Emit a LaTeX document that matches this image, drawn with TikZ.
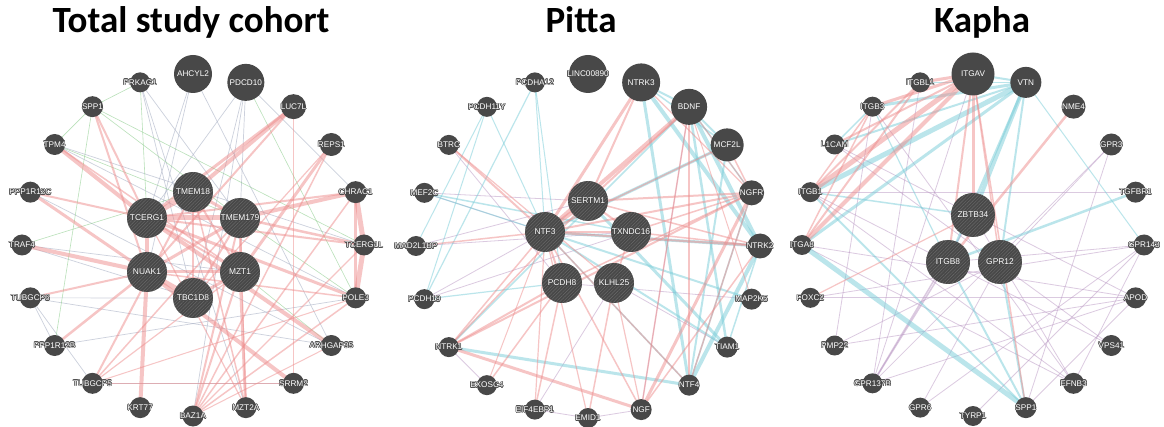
\documentclass[tikz,border=0pt]{standalone}
\usepackage{fontspec}
\newfontfamily\labf{Liberation Sans}
\newfontfamily\ttlf{Carlito}
\usetikzlibrary{calc,patterns.meta}
\definecolor{nd}{RGB}{72,72,72}
\definecolor{hatch}{RGB}{105,105,105}
\definecolor{pinkc}{RGB}{238,140,140}
\definecolor{bluec}{RGB}{120,205,216}
\definecolor{greenc}{RGB}{140,205,140}
\definecolor{purpc}{RGB}{185,150,195}
\definecolor{grayc}{RGB}{170,178,198}
\pgfdeclarelayer{bg}
\pgfdeclarelayer{edges}
\pgfsetlayers{bg,edges,main}
\newcommand\hl[1]{{\setbox0\hbox{#1}%
\def\hp##1##2{\rlap{\hskip##1\raisebox{##2}{\color{nd}\copy0}}}%
\hp{.6pt}{0pt}\hp{-.6pt}{0pt}\hp{0pt}{.6pt}\hp{0pt}{-.6pt}%
\hp{.45pt}{.45pt}\hp{-.45pt}{.45pt}\hp{.45pt}{-.45pt}\hp{-.45pt}{-.45pt}%
\color{white}\box0}}
\newcommand\nl[1]{\makebox[0pt]{\hl{#1}}}
\begin{document}
\begin{tikzpicture}[x=1pt,y=-1pt,
 ringnode/.style={circle,fill=nd,inner sep=0pt,minimum size=#1,text=white,font=\labf\fontsize{8.2}{9}\selectfont},
 hubnode/.style={circle,inner sep=0pt,minimum size=#1,preaction={fill=nd},pattern={Lines[angle=45,distance=2.4pt,line width=.45pt]},pattern color=hatch,text=white,font=\labf\fontsize{8.4}{9}\selectfont},
 ttl/.style={font=\ttlf\bfseries\fontsize{37}{40}\selectfont,text=black,anchor=base,inner sep=0pt},
 epk/.style={draw=pinkc,draw opacity=.5,line width=#1}, epk/.default=1,
 ebl/.style={draw=bluec,draw opacity=.5,line width=#1}, ebl/.default=1,
 egr/.style={draw=greenc,draw opacity=.6,line width=#1}, egr/.default=.6,
 epu/.style={draw=purpc,draw opacity=.5,line width=#1}, epu/.default=.8,
 egy/.style={draw=grayc,draw opacity=.6,line width=#1}, egy/.default=.7]
\useasboundingbox (0,0) rectangle (1164,427);
\begin{pgfonlayer}{bg}\fill[white] (0,0) rectangle (1164,427);\end{pgfonlayer}

% titles
\node[ttl] (t1) at (191,33) {Total study cohort};
\node[ttl] (t2) at (581,33) {Pitta};
\node[ttl] (t3) at (982,33) {Kapha};

% ---------- panel 1 ----------
\coordinate (C1) at (193,245);
\foreach \kk/\nm/\tx/\sz in {0/a0/AHCYL2/38pt,1/a1/PDCD10/37pt,2/a2/LUC7L/25pt,3/a3/REPS1/23pt,4/a4/CHRAC1/22pt,5/a5/TCERG1L/21pt,6/a6/POLE3/21pt,7/a7/ARHGAP35/21pt,8/a8/SRRM2/21pt,9/a9/MZT2A/21pt,10/a10/BAZ1A/21pt,11/a11/KRT77/21pt,12/a12/TUBGCP5/21pt,13/a13/PPP1R12B/21pt,14/a14/TUBGCP6/21pt,15/a15/TRAF4/21pt,16/a16/PPP1R12C/21pt,17/a17/TPM4/21pt,18/a18/SPP1/21pt,19/a19/PRKAG1/20pt}
  \node[ringnode=\sz] (\nm) at ($(C1)+({\kk*18-90}:171)$) {\nl{\tx}};
\node[hubnode=40pt] (aTM18) at (193,192) {\nl{TMEM18}};
\node[hubnode=40pt] (aTC) at (147,218) {\nl{TCERG1}};
\node[hubnode=40pt] (aTM179) at (240,218) {\nl{TMEM179}};
\node[hubnode=40pt] (aNU) at (147,272) {\nl{NUAK1}};
\node[hubnode=40pt] (aMZ) at (240,272) {\nl{MZT1}};
\node[hubnode=40pt] (aTB) at (193,298) {\nl{TBC1D8}};

% ---------- panel 2 ----------
\coordinate (C2) at (588,246);
\foreach \kk/\nm/\tx/\sz in {0/b0/LINC00890/38pt,1/b1/NTRK3/38pt,2/b2/BDNF/36pt,3/b3/MCF2L/33pt,4/b4/NGFR/25pt,5/b5/NTRK2/25pt,6/b6/MAP2K5/21pt,7/b7/TIAM1/21pt,8/b8/NTF4/21pt,9/b9/NGF/21pt,10/b10/EMID1/20pt,11/b11/EIF4EBP1/20pt,12/b12/EXOSC4/20pt,13/b13/NTRK1/20pt,14/b14/PCDH19/20pt,15/b15/MAD2L1BP/20pt,16/b16/MEF2C/20pt,17/b17/BTRC/20pt,18/b18/PCDH11Y/20pt,19/b19/PCDHA12/20pt}
  \node[ringnode=\sz] (\nm) at ($(C2)+({\kk*18-90}:172)$) {\nl{\tx}};
\node[hubnode=40pt] (bSE) at (588,201) {\nl{SERTM1}};
\node[hubnode=40pt] (bN3) at (545,232) {\nl{NTF3}};
\node[hubnode=40pt] (bTX) at (631,232) {\nl{TXNDC16}};
\node[hubnode=40pt] (bP8) at (562,283) {\nl{PCDH8}};
\node[hubnode=40pt] (bKL) at (614,283) {\nl{KLHL25}};

% ---------- panel 3 ----------
\coordinate (C3) at (973,245);
\foreach \kk/\nm/\tx/\sz in {0/c0/ITGAV/43pt,1/c1/VTN/31pt,2/c2/NME4/24pt,3/c3/GPR3/22pt,4/c4/TGFBR1/21pt,5/c5/GPR143/21pt,6/c6/APOD/21pt,7/c7/VPS41/21pt,8/c8/EFNB3/21pt,9/c9/SPP1/21pt,10/c10/TYRP1/20pt,11/c11/GPR6/20pt,12/c12/GPR137B/20pt,13/c13/PMP22/20pt,14/c14/FOXC2/20pt,15/c15/ITGA8/20pt,16/c16/ITGB1/20pt,17/c17/L1CAM/20pt,18/c18/ITGB3/20pt,19/c19/ITGBL1/20pt}
  \node[ringnode=\sz] (\nm) at ($(C3)+({\kk*18-90}:171)$) {\nl{\tx}};
\node[hubnode=44pt] (cZB) at (973,215) {\nl{ZBTB34}};
\node[hubnode=44pt] (cI8) at (948,262) {\nl{ITGB8}};
\node[hubnode=44pt] (cG12) at (1000,262) {\nl{GPR12}};

\begin{pgfonlayer}{edges}
% panel 1
\foreach \u/\v in {a19/aTM179,a19/aTB,a1/aTM179,a1/aTB,a1/aTC,a1/a4,a0/aTC,a0/aNU,a17/a6,a14/a12,a14/a7,a12/a8,a13/a6,a15/aMZ,a16/a7,a1/a10,a0/a7,a19/a9,a17/a5,a14/aTB,a15/aTB,a13/a14}
  \draw[egy] (\u.center) -- (\v.center);
\foreach \u/\v in {a19/a18,a18/a17,a18/aTM179,a17/aTM179,a18/a13,a19/aTC,a1/a6,aTM179/a6,a7/aMZ,a15/aTM18,a18/a5}
  \draw[egr] (\u.center) -- (\v.center);
\foreach \u/\v/\w in {a2/aTM18/4,a2/aTC/3,a2/aNU/2,a2/a8/1,a3/aMZ/3,a3/a10/1.5,a3/aTB/1.2,a4/aTM179/4,a4/a5/5,a5/a6/5,a4/a6/3,a4/aTC/2,a4/a10/1.5,a5/aTM179/2.5,a5/aTC/2,a5/a10/1.2,a6/aTC/3,a6/a10/1.5,a6/aNU/1.5,a6/a12/1,a7/aTC/4,a7/a10/1,a8/aNU/4,a8/a12/1,a9/aMZ/3,a9/aTM18/1.5,a9/aTC/1.2,a9/aTM179/1.2,a10/aMZ/2,a10/aTM179/2,a11/aNU/4,a12/aTM18/2,a12/aTM179/1.5,a12/aMZ/1.2,a13/aNU/2.5,a14/aNU/2,a15/aNU/4,a16/aNU/3,a16/aTC/2,a17/aTC/4,a17/aMZ/1.5,a18/aTC/2,a18/aNU/2,aTC/aTM18/5,aTC/aTM179/5,aTC/aNU/4,aNU/aTB/5,aNU/aMZ/3,aTM179/aMZ/3,aTM18/aMZ/2,aTC/aMZ/2,aTM179/aNU/3,aTM18/aTB/2,aTM179/aTB/2,aMZ/aTB/3,aTM18/aTM179/3}
  \draw[epk=\w] (\u.center) -- (\v.center);
% panel 2
\foreach \u/\v in {b14/bN3,b16/bSE,b16/bN3,b14/bTX,b12/b13,b11/b10,b15/bSE,b9/b2,b15/bTX,b17/bP8,b11/bKL,b10/b9,b6/bP8,b7/bKL}
  \draw[epu] (\u.center) -- (\v.center);
\foreach \u/\v/\w in {b1/b5/4,b1/b8/3,b1/b2/2,b1/b3/1.5,b2/b5/4,b2/b7/2.5,b2/b3/2,b2/b4/1.5,b2/b13/1.5,b3/bN3/3,b3/b8/2,b5/bN3/3,b5/b8/4,b6/bN3/2,b7/bN3/2,b7/bSE/3,b8/b13/3,b8/bN3/1.5,b14/b19/1.2,b14/b18/1,b14/bP8/1.2,b15/b18/1,b16/bTX/1.5,b16/bN3/1.2,b18/bN3/1,b19/bN3/1,b19/bP8/1,b4/b8/1.5,b5/b7/1.5}
  \draw[ebl=\w] (\u.center) -- (\v.center);
\foreach \u/\v/\w in {b1/bN3/3,b1/bSE/2,b1/b4/1.2,b2/bN3/4,b2/bSE/2,b2/b8/1.5,b2/b9/1.5,b2/b4/1.2,b2/b6/1,b3/b4/1.5,b3/bN3/1.5,b4/bN3/2,b4/bSE/2,b4/b13/2,b4/b9/3,b4/b8/1.5,b4/bP8/1.5,b4/bTX/1.5,b5/bN3/2,b5/b9/1.5,b5/bTX/1.5,b5/bSE/1.5,b8/bN3/1.5,b9/b13/3,b9/bN3/1.5,b9/bKL/1.2,b10/bN3/1.2,b10/bKL/1.5,b11/bP8/1.5,b11/bN3/1.2,b12/bP8/1.5,b12/bN3/1,b13/bN3/1.5,b13/bP8/2,b13/bSE/1.5,b15/bN3/1.5,b17/bN3/2,b17/bKL/1.2,bSE/bN3/4,bN3/bTX/2.5,bN3/bP8/2,bTX/bKL/1.5,bSE/bTX/2}
  \draw[epk=\w] (\u.center) -- (\v.center);
% panel 3
\foreach \u/\v in {c3/c12,c3/cG12,c5/cI8,c5/c14,c6/c15,c6/c12,c7/c16,c8/c18,c8/cZB,c11/c5,c13/cG12,c14/c6,c12/c19,c10/c5,c17/c7,c16/c4,c13/c18,c11/cG12,c8/c16,c9/c3,c9/c6,c8/c5,c12/c0,c15/c8,c13/c6,c6/c17}
  \draw[epu] (\u.center) -- (\v.center);
\foreach \u/\v/\w in {c12/cZB/1.5,c12/cI8/1.5}
  \draw[epu=\w] (\u.center) -- (\v.center);
\foreach \u/\v/\w in {c1/c16/5,c1/c18/3,c1/c15/3,c1/cZB/4,c1/cI8/2.5,c1/c17/2,c1/cG12/2,c0/c1/2,c15/c9/5,c16/c9/2,cI8/c9/2,cG12/c9/2,c4/cI8/2.5,c18/c17/1.5,c19/c1/1.5,c16/cZB/1.5,c18/cI8/1.2,c1/c5/1}
  \draw[ebl=\w] (\u.center) -- (\v.center);
\foreach \u/\v/\w in {c0/c16/5,c0/c15/4,c0/c18/3,c0/c19/3,c0/c17/2,c0/cZB/3,c0/cI8/2,c0/c9/1.5,c19/c16/2,c19/c15/2,c18/c16/1.5,c2/cI8/2.5,c14/cZB/1.2,c0/cG12/1.5,c18/c15/1.5}
  \draw[epk=\w] (\u.center) -- (\v.center);
\end{pgfonlayer}
\end{tikzpicture}
\end{document}
